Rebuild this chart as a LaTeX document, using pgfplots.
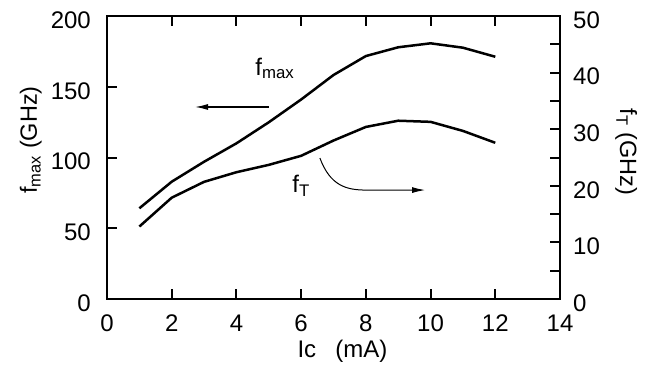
\documentclass[border=0pt]{standalone}
\usepackage{fontspec}
\setmainfont{Liberation Sans}
\usepackage{pgfplots}
\pgfplotsset{compat=1.18}
\usetikzlibrary{arrows.meta}
\newcommand\bigf{\fontsize{24}{29}\selectfont}
\newcommand\labf{\fontsize{23.5}{28}\selectfont}
\begin{document}
\bigf
\begin{tikzpicture}[font=\bigf]
\useasboundingbox (-107pt,-69pt) rectangle (548pt,299pt);
\pgfplotsset{
  base/.style={
    scale only axis, width=453pt, height=283pt,
    at={(0,0)}, anchor=south west,
    xmin=0, xmax=14,
    tick align=inside,
    major tick length=10pt, minor tick length=10pt,
    axis line style={line width=2.8pt},
    every tick/.style={line width=2pt, black},
    /pgf/number format/assume math mode=true,
    tick label style={font=\bigf, inner sep=0pt},
  }
}
\begin{axis}[base,
  ymin=0, ymax=200,
  xtick={0,2,...,14}, ytick={0,50,...,200},
  xtick pos=both, ytick pos=left,
  xticklabel style={anchor=north, yshift=-16pt},
  yticklabel style={anchor=east, xshift=-16pt, yshift=-4pt},
  every axis x label/.style={at={(rel axis cs:0.5,0)}, anchor=north, inner sep=0pt, yshift=-41pt, xshift=9pt, font=\bigf},
  every axis y label/.style={at={(rel axis cs:-0.1435,0.562)}, anchor=south, rotate=90, inner sep=0pt, font=\labf},
  xlabel={Ic\hspace{0.8em}(mA)},
  ylabel={f\textsubscript{max} (GHz)},
]
\addplot[line width=2.5pt, black] coordinates {
(1,64.1) (2,82.9) (3,97) (4,110) (5,124.9) (6,141) (7,158.3) (8,171.7) (9,177.9) (10,180.7) (11,177.6) (12,171.2)};
\node at (axis cs:5.19,163) {f\textsubscript{max}};
\node at (axis cs:6.0,80) {f\textsubscript{T}};
\draw[line width=1.3pt, -{Latex[length=13pt,width=6pt]}] (axis cs:5.0,135.7) -- (axis cs:2.72,135.7);
\draw[line width=1pt, -{Latex[length=13pt,width=6pt]}] (axis cs:6.58,99.6) .. controls (axis cs:6.9,80) and (axis cs:7.4,77) .. (axis cs:8,77) -- (axis cs:9.83,77);
\end{axis}
\begin{axis}[base,
  ymin=0, ymax=50,
  axis x line=none,
  axis y line*=right,
  ytick={0,10,...,50}, minor ytick={5,15,...,45},
  ytick pos=right,
  yticklabel style={anchor=west, xshift=13pt, yshift=-4pt},
  every axis y label/.style={at={(rel axis cs:1.1214,0.519)}, anchor=south, rotate=-90, inner sep=0pt, font=\labf},
  ylabel={f\textsubscript{T} (GHz)},
]
\addplot[line width=2.5pt, black] coordinates {
(1,12.8) (2,17.9) (3,20.7) (4,22.4) (5,23.7) (6,25.3) (7,28.0) (8,30.4) (9,31.5) (10,31.3) (11,29.7) (12,27.6)};
\end{axis}
\end{tikzpicture}
\end{document}
